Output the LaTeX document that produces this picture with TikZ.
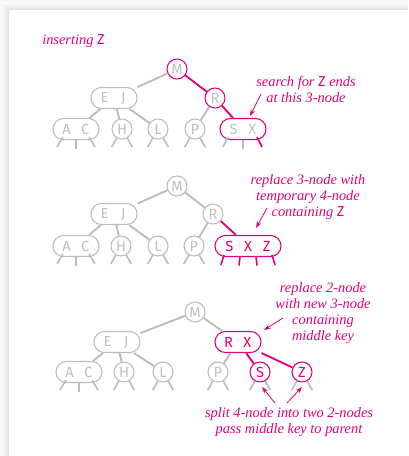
\documentclass[tikz,border=0pt]{standalone}
\usepackage{fontspec}
\setmainfont{Liberation Serif}
\newfontfamily\keyfont{Fira Sans}
\usetikzlibrary{arrows.meta}
\definecolor{mag}{RGB}{228,0,124}
\definecolor{lg}{RGB}{188,188,188}
\definecolor{tg}{RGB}{192,192,192}
\newcommand\ks[1]{\makebox[14pt]{#1}}
\newcommand\kz{{\upshape\keyfont Z}}
\begin{document}
\begin{tikzpicture}[x=0.75pt,y=-0.75pt,
 keyfont/.style={font=\keyfont\fontsize{11}{11}\selectfont},
 two/.style={circle,draw=lg,line width=0.8pt,fill=white,text=tg,minimum size=15pt,inner sep=0pt,keyfont},
 three/.style={rectangle,rounded corners=7.8pt,draw=lg,line width=0.8pt,fill=white,text=tg,minimum width=34.5pt,minimum height=15.75pt,inner sep=0pt,keyfont},
 four/.style={three,minimum width=49.5pt},
 hot/.style={draw=mag,text=mag},
 ring/.style={draw=mag},
 edge/.style={lg,line width=1.4pt},
 hedge/.style={mag,line width=1.4pt},
 stub/.style={lg,line width=1.2pt},
 hstub/.style={mag,line width=1.2pt},
 note/.style={mag,font=\itshape\fontsize{10.8}{12}\selectfont,align=center,inner sep=0pt},
 pointer/.style={mag,line width=0.6pt,-{Stealth[length=5pt,width=3.5pt]}}
]
\useasboundingbox (0,0) rectangle (408,456);
% background with shadow
\fill[black!4] (0,0) rectangle (408,456);
\foreach \k in {8,...,1}{
  \pgfmathsetmacro\shade{(9-\k)*1.3}
  \fill[black!\shade] (9-\k,10-\k) rectangle (408,456);
}
\fill[white] (9,10) rectangle (408,456);

% ---------------- panel 1 ----------------
\node[note,anchor=west] (t1) at (42,41) {inserting \kz};
\node[two,ring] (m1) at (177,69) {M};
\node[three] (ej1) at (114,98) {\ks{E}\ks{J}};
\node[two,ring] (r1) at (215,98) {R};
\node[three] (ac1) at (76,129) {\ks{A}\ks{C}};
\node[two] (h1) at (122,129) {H};
\node[two] (l1) at (158,129) {L};
\node[two] (p1) at (195,129) {P};
\node[three,ring] (sx1) at (243,129) {\ks{S}\ks{X}};
\draw[edge] (m1) -- (ej1);
\draw[hedge] (m1) -- (r1);
\draw[edge] (ej1) -- (ac1);
\draw[edge] (ej1) -- (h1);
\draw[edge] (ej1) -- (l1);
\draw[edge] (r1) -- (p1);
\draw[hedge] (r1) -- (sx1);
\foreach \n in {h1,l1,p1}{
  \draw[stub] (\n.240) -- ++(-5,9);
  \draw[stub] (\n.300) -- ++(5,9);
}
\draw[stub] ([shift={(-13,8)}]ac1.center) -- ++(-6,10);
\draw[stub] (ac1.south) -- ++(0,9);
\draw[stub] ([shift={(13,8)}]ac1.center) -- ++(6,10);
\draw[stub] ([shift={(-15,8)}]sx1.center) -- ++(-5,10);
\draw[stub] (sx1.south) -- ++(0,9);
\draw[hstub] ([shift={(14,8)}]sx1.center) -- ++(5,10);
\node[note] (n1) at (306,90) {search for \kz{} ends\\at this 3-node};
\draw[pointer] (261,94) -- (250,116);

% ---------------- panel 2 ----------------
\node[two] (m2) at (177,186) {M};
\node[three] (ej2) at (114,214) {\ks{E}\ks{J}};
\node[two] (r2) at (213,214) {R};
\node[three] (ac2) at (76,246) {\ks{A}\ks{C}};
\node[two] (h2) at (121,246) {H};
\node[two] (l2) at (158,246) {L};
\node[two] (p2) at (194,246) {P};
\node[four,hot] (sxz2) at (248,246) {\ks{S}\ks{X}\ks{Z}};
\draw[edge] (m2) -- (ej2);
\draw[edge] (m2) -- (r2);
\draw[edge] (ej2) -- (ac2);
\draw[edge] (ej2) -- (h2);
\draw[edge] (ej2) -- (l2);
\draw[edge] (r2) -- (p2);
\draw[hedge] (r2) -- (sxz2);
\foreach \n in {h2,l2,p2}{
  \draw[stub] (\n.240) -- ++(-5,9);
  \draw[stub] (\n.300) -- ++(5,9);
}
\draw[stub] ([shift={(-13,8)}]ac2.center) -- ++(-6,10);
\draw[stub] (ac2.south) -- ++(0,9);
\draw[stub] ([shift={(13,8)}]ac2.center) -- ++(6,10);
\draw[hstub] ([shift={(-24,9)}]sxz2.center) -- ++(-3,10);
\draw[hstub] ([shift={(-8,10.5)}]sxz2.center) -- ++(-1,9);
\draw[hstub] ([shift={(8,10.5)}]sxz2.center) -- ++(1,9);
\draw[hstub] ([shift={(24,9)}]sxz2.center) -- ++(3,10);
\node[note] (n2) at (308,197) {replace 3-node with\\temporary 4-node\\containing \kz};
\draw[pointer] (267,208) -- (256,228);

% ---------------- panel 3 ----------------
\node[two] (m3) at (195,312) {M};
\node[three] (ej3) at (117,342) {\ks{E}\ks{J}};
\node[three,hot] (rx3) at (238,342) {\ks{R}\ks{X}};
\node[three] (ac3) at (79,372) {\ks{A}\ks{C}};
\node[two] (h3) at (124,372) {H};
\node[two] (l3) at (163,372) {L};
\node[two] (p3) at (218,372) {P};
\node[two,hot] (s3) at (260,372) {S};
\node[two,hot] (z3) at (302,372) {Z};
\draw[edge] (m3) -- (ej3);
\draw[edge] (m3) -- (rx3);
\draw[edge] (ej3) -- (ac3);
\draw[edge] (ej3) -- (h3);
\draw[edge] (ej3) -- (l3);
\draw[edge] (rx3) -- (p3);
\draw[hedge] (rx3) -- (s3);
\draw[hedge] (rx3) -- (z3);
\foreach \n in {h3,l3,p3,s3,z3}{
  \draw[stub] (\n.240) -- ++(-5,9);
  \draw[stub] (\n.300) -- ++(5,9);
}
\draw[stub] ([shift={(-13,8)}]ac3.center) -- ++(-6,10);
\draw[stub] (ac3.south) -- ++(0,9);
\draw[stub] ([shift={(13,8)}]ac3.center) -- ++(6,10);
\node[note] (n3) at (323,313) {replace 2-node\\with new 3-node\\containing\\middle key};
\draw[pointer] (283,318) -- (264,330);
\node[note] (n4) at (289,422) {split 4-node into two 2-nodes\\pass middle key to parent};
\draw[pointer] (275,403) -- (262,387);
\draw[pointer] (287,403) -- (302,387);
\end{tikzpicture}
\end{document}
